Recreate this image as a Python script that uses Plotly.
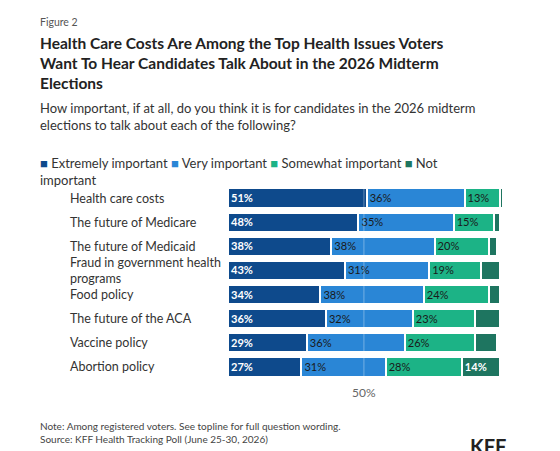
import plotly.graph_objects as go

categories = ["Health care costs", "The future of Medicare", "The future of Medicaid",
              "Fraud in government health<br>programs", "Food policy", "The future of the ACA",
              "Vaccine policy", "Abortion policy"]
extremely = [51, 48, 38, 43, 34, 36, 29, 27]
very = [36, 35, 38, 31, 38, 32, 36, 31]
somewhat = [13, 15, 20, 19, 24, 23, 26, 28]
not_imp = [1, 2, 3, 7, 4, 9, 8, 14]

series = [
    ("Extremely important", extremely, "#0e4a8c", "white"),
    ("Very important", very, "#2a86d6", "#1a1a1a"),
    ("Somewhat important", somewhat, "#1cb386", "#1a1a1a"),
    ("Not important", not_imp, "#1e7560", "white"),
]

# plot area in pixels: x 220..500, y 178..371
L, R, T, B = 220, 500, 178, 371


def px(x):
    return (x - L) / (R - L)


def py(y):
    return (B - y) / (B - T)


fig = go.Figure()
for name, vals, color, tcolor in series:
    fig.add_trace(go.Bar(
        y=categories, x=vals, name=name, orientation="h",
        marker=dict(color=color, line=dict(color="white", width=2)),
        text=[f"<b>{v}%</b>" if tcolor == "white" else f"{v}%" for v in vals],
        texttemplate=[("%{text}" if v >= 10 else "") for v in vals],
        textposition="inside", insidetextanchor="start",
        textfont=dict(color=tcolor, size=12.5, family="Lato"),
        hoverinfo="skip",
    ))

fig.add_vline(x=50, line=dict(color="rgba(255,255,255,0.35)", width=1))

ann = [
    dict(x=30, y=6, text="Figure 2", size=10.5, color="#555"),
    dict(x=30, y=24, text="<b>Health Care Costs Are Among the Top Health Issues Voters<br>Want To Hear Candidates Talk About in the 2026 Midterm<br>Elections</b>",
         size=15.5, color="#222"),
    dict(x=30, y=90, text="How important, if at all, do you think it is for candidates in the 2026 midterm<br>elections to talk about each of the following?",
         size=13, color="#333"),
    dict(x=30, y=145,
         text="<span style='color:#0e4a8c'>■</span> Extremely important <span style='color:#2a86d6'>■</span> Very important <span style='color:#1cb386'>■</span> Somewhat important <span style='color:#1e7560'>■</span> Not<br>important",
         size=13, color="#333"),
    dict(x=30, y=410, text="Note: Among registered voters. See topline for full question wording.<br>Source: KFF Health Tracking Poll (June 25-30, 2026)",
         size=10, color="#444"),
]
for a in ann:
    fig.add_annotation(x=px(a["x"]), y=py(a["y"]), xref="paper", yref="paper", xanchor="left", yanchor="top",
                       text=a["text"], showarrow=False, align="left",
                       font=dict(size=a["size"], color=a["color"], family="Lato"))
fig.add_annotation(x=px(500), y=py(438), xref="paper", yref="paper", xanchor="right", yanchor="middle",
                   text="<b>KFF</b>", showarrow=False, font=dict(size=20, color="#222", family="Lato"))
fig.add_annotation(x=50, y=py(375), xref="x", yref="paper", yanchor="top", text="50%",
                   showarrow=False, font=dict(size=12, color="#666", family="Lato"))

for c in categories:
    fig.add_annotation(x=px(60), y=c, xref="paper", yref="y", xanchor="left",
                       text=c, showarrow=False, align="left",
                       font=dict(size=12.5, color="#333", family="Lato"))

fig.update_layout(
    width=560, height=451, barmode="stack", bargap=0.2, showlegend=False,
    margin=dict(l=L, r=560 - R, t=T, b=451 - B),
    plot_bgcolor="white", paper_bgcolor="white",
    xaxis=dict(range=[0, 103], visible=False),
    yaxis=dict(autorange="reversed", showticklabels=False, ticks="", showgrid=False),
    font=dict(family="Lato"),
)

fig.write_html("out.html")
